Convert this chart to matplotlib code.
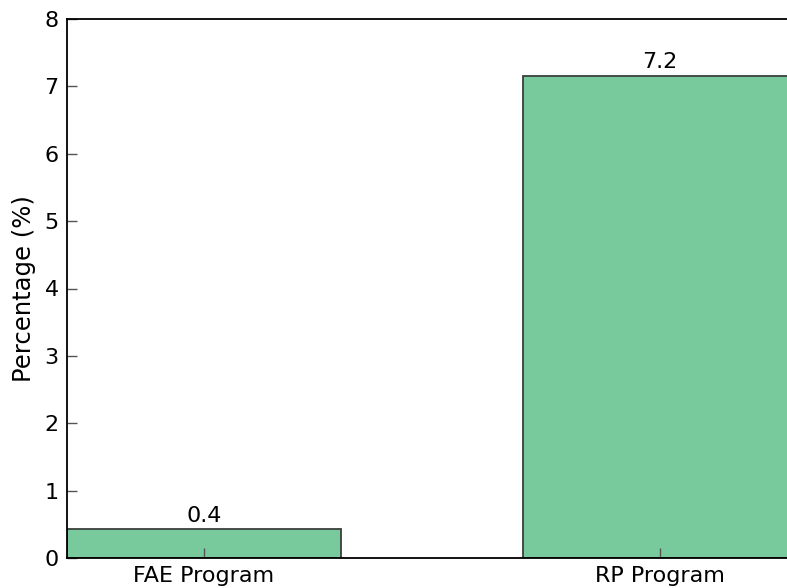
import matplotlib
matplotlib.use("Agg")
import matplotlib.pyplot as plt

programs = ["FAE Program", "RP Program"]
percent = [0.43, 7.16]
labels = ["0.4", "7.2"]

plt.rcParams["font.family"] = "DejaVu Sans"

fig = plt.figure(figsize=(7.87, 5.88), dpi=100)
# the original is cut off on the right, so the axes run past the figure edge
ax = fig.add_axes([67 / 787, 30 / 588, 730 / 787, 539 / 588])

bars = ax.bar(range(len(programs)), percent, width=0.6, color="#78c99b",
              edgecolor="#3a3f3c", linewidth=1.3)
for b, t in zip(bars, labels):
    ax.text(b.get_x() + b.get_width() / 2, b.get_height() + 0.05, t,
            ha="center", va="bottom", fontsize=16)

ax.set_xlim(-0.3, 1.3)
ax.set_ylim(0, 8)
ax.set_xticks(range(len(programs)))
ax.set_xticklabels(programs)
ax.set_ylabel("Percentage (%)", fontsize=17.5, labelpad=6)
ax.tick_params(direction="in", length=7, width=1, color="#555555",
               labelsize=16, top=False, right=False, pad=6)
for s in ax.spines.values():
    s.set_linewidth(1.3)
    s.set_color("black")

fig.savefig("out.png", dpi=100)
